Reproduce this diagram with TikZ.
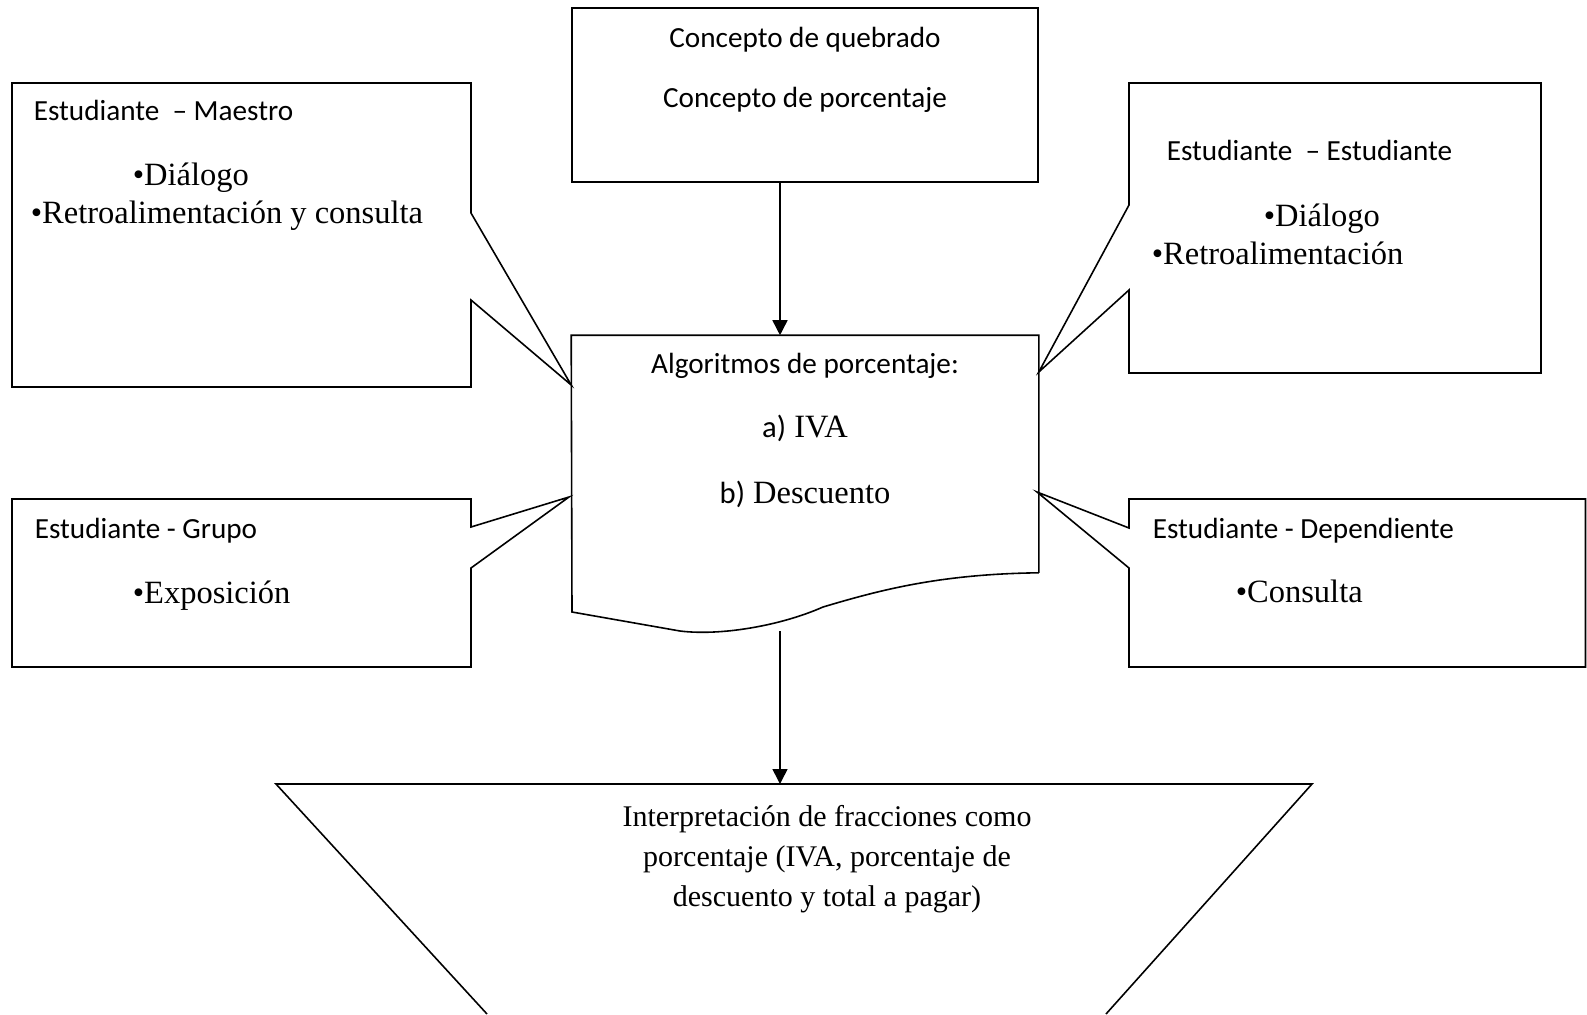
\documentclass[tikz,border=0pt]{standalone}
\usepackage{fontspec}
\setmainfont{Liberation Serif}
\newfontfamily\calibri{Carlito}
\usetikzlibrary{arrows.meta}

\begin{document}
\begin{tikzpicture}[x = 0.44pt, y = -0.44pt, line width = 0.7pt,
    every node/.style = { inner sep = 0pt },
    sans/.style = { font = \calibri\fontsize{12.85}{15}\selectfont },
    serif/.style = { font = \fontsize{14.3}{17}\selectfont },
    caja/.style = { draw, line width = 0.7pt },
    flecha/.style = { -{Triangle[width = 6.6pt, length = 6.6pt]} }]
    \useasboundingbox (0,0) rectangle (1587,1014);
    \clip (0,0) rectangle (1587,1014);

    % concepts
    \node [caja, minimum width = 205.04pt, minimum height = 76.56pt] (concepto) at (805,95) {};
    \node [sans, anchor = base] (quebrado) at (805,47) {Concepto de quebrado};
    \node [sans, anchor = base] (porcentaje) at (805,107) {Concepto de porcentaje};

    % algorithms (document shape)
    \node [minimum width = 205.04pt, minimum height = 103.84pt] (algoritmos) at (805,454) {};
    \draw (algoritmos.south east) -- (algoritmos.north east) -- (algoritmos.north west)
      -- (572,612) -- (680,631) .. controls (720,636) and (780,626) .. (823,607)
      .. controls (880,590) and (940,574) .. (algoritmos.south east);
    \node [sans, anchor = base] (alg) at (805,373) {Algoritmos de porcentaje:};
    \node [serif, anchor = base] (iva) at (805,437) {{\calibri\fontsize{13.5}{16}\selectfont a)} IVA};
    \node [serif, anchor = base] (descuento) at (805,503) {{\calibri\fontsize{13.5}{16}\selectfont b)} Descuento};

    % interpretation
    \draw (487,1014) -- +(-211,-230) coordinate (ti) -- (ti -| 1312,0) coordinate (td) -- +(-206,230);
    \path (ti) -- (td) coordinate [pos = 0.487] (interpretacion);
    \node [font = \fontsize{13.2}{17.6}\selectfont, align = center, anchor = north] (texto) at (827,805)
      {Interpretación de fracciones como\\ porcentaje (IVA, porcentaje de\\ descuento y total a pagar)};

    \coordinate (eje) at (780,0);
    \draw [flecha] (concepto.south -| eje) -- (algoritmos.north -| eje);
    \draw [flecha] (780,631) -- (interpretacion -| eje);

    % callouts
    \draw (12,83) -- (471,83) -- (471,213) -- (algoritmos.west |- 0,385) -- (471,300) -- (471,387) -- (12,387) -- cycle;
    \node [sans, anchor = base west] (maestro) at (33,120) {Estudiante \ – Maestro};
    \node [serif, anchor = base west] (dialogo1) at (132,185) {\textbullet Diálogo};
    \node [serif, anchor = base west] (retro1) at (30,223) {\textbullet Retroalimentación y consulta};

    \draw (1129,83) -- (1541,83) -- (1541,373) -- (1129,373) -- (1129,290) -- (algoritmos.east |- 0,372) -- (1129,205) -- cycle;
    \node [sans, anchor = base west] (estudiante) at (1166,160) {Estudiante \ – Estudiante};
    \node [serif, anchor = base west] (dialogo2) at (1263,226) {\textbullet Diálogo};
    \node [serif, anchor = base west] (retro2) at (1151,264) {\textbullet Retroalimentación};

    \draw (12,499) -- (471,499) -- (471,527) -- (569,497) -- (471,568) -- (471,667) -- (12,667) -- cycle;
    \node [sans, anchor = base west] (grupo) at (34,538) {Estudiante - Grupo};
    \node [serif, anchor = base west] (exposicion) at (132,603) {\textbullet Exposición};

    \draw (1129,499) -- (1585.5,499) -- (1585.5,667) -- (1129,667) -- (1129,568) -- (1037,492) -- (1129,528) -- cycle;
    \node [sans, anchor = base west] (dependiente) at (1152,538) {Estudiante - Dependiente};
    \node [serif, anchor = base west] (consulta) at (1235,602) {\textbullet Consulta};
\end{tikzpicture}
\end{document}
